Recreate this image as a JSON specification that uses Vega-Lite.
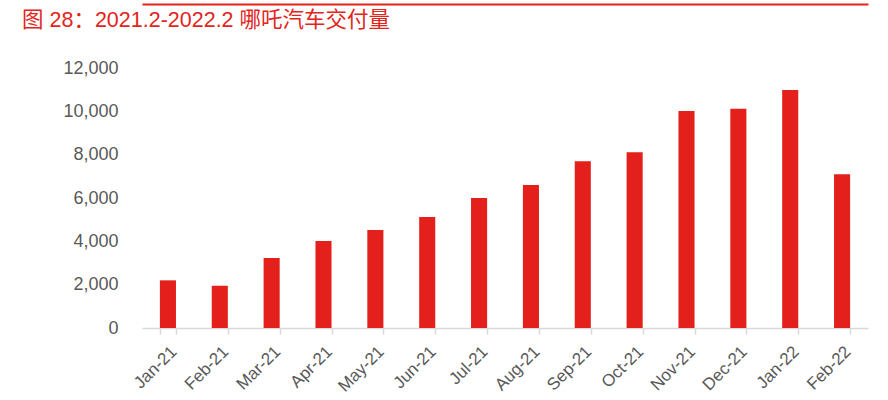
{
  "$schema": "https://vega.github.io/schema/vega-lite/v6.json",
  "width": 726,
  "height": 260,
  "autosize": {"type": "none"},
  "padding": {"left": 142, "top": 68, "right": 20, "bottom": 72},
  "background": "white",
  "title": {
    "text": "图 28：2021.2-2022.2 哪吒汽车交付量",
    "anchor": "start",
    "frame": "group",
    "dx": -120,
    "offset": -27,
    "font": "Liberation Sans, Noto Sans CJK SC",
    "fontSize": 21.5,
    "fontWeight": "normal",
    "color": "#E3241B"
  },
  "data": {
    "values": [
      {"month": "Jan-21", "value": 2200},
      {"month": "Feb-21", "value": 1950},
      {"month": "Mar-21", "value": 3230},
      {"month": "Apr-21", "value": 4010},
      {"month": "May-21", "value": 4520},
      {"month": "Jun-21", "value": 5120},
      {"month": "Jul-21", "value": 6000},
      {"month": "Aug-21", "value": 6600},
      {"month": "Sep-21", "value": 7700},
      {"month": "Oct-21", "value": 8110},
      {"month": "Nov-21", "value": 10010},
      {"month": "Dec-21", "value": 10120},
      {"month": "Jan-22", "value": 10980},
      {"month": "Feb-22", "value": 7100}
    ]
  },
  "config": {
    "view": {"stroke": null},
    "font": "Liberation Sans"
  },
  "layer": [
    {
      "mark": {"type": "bar", "color": "#E3201B"},
      "encoding": {
        "x": {
          "field": "month",
          "type": "ordinal",
          "sort": null,
          "scale": {"paddingInner": 0.69, "paddingOuter": 0.345},
          "axis": {
            "title": null,
            "labelAngle": -45,
            "labelFont": "Liberation Sans",
            "labelFontSize": 17,
            "labelColor": "#595959",
            "labelPadding": 9,
            "domainColor": "#D9D9D9",
            "domainWidth": 1.5,
            "tickColor": "#D9D9D9",
            "tickWidth": 1.5,
            "tickSize": 6,
            "tickBand": "extent"
          }
        },
        "y": {
          "field": "value",
          "type": "quantitative",
          "scale": {"domain": [0, 12000]},
          "axis": {
            "title": null,
            "values": [0, 2000, 4000, 6000, 8000, 10000, 12000],
            "format": ",.0f",
            "grid": false,
            "domain": false,
            "ticks": false,
            "labelFont": "Liberation Sans",
            "labelFontSize": 18,
            "labelColor": "#595959",
            "labelPadding": 24
          }
        }
      }
    },
    {
      "mark": {"type": "bar", "opacity": 0},
      "encoding": {
        "x": {
          "field": "month",
          "type": "ordinal",
          "sort": null,
          "axis": {
            "orient": "top",
            "title": null,
            "labels": false,
            "ticks": false,
            "domainColor": "#E3241B",
            "domainWidth": 2,
            "offset": 64
          }
        },
        "y": {"field": "value", "type": "quantitative"}
      }
    }
  ],
  "resolve": {"axis": {"x": "independent"}}
}
